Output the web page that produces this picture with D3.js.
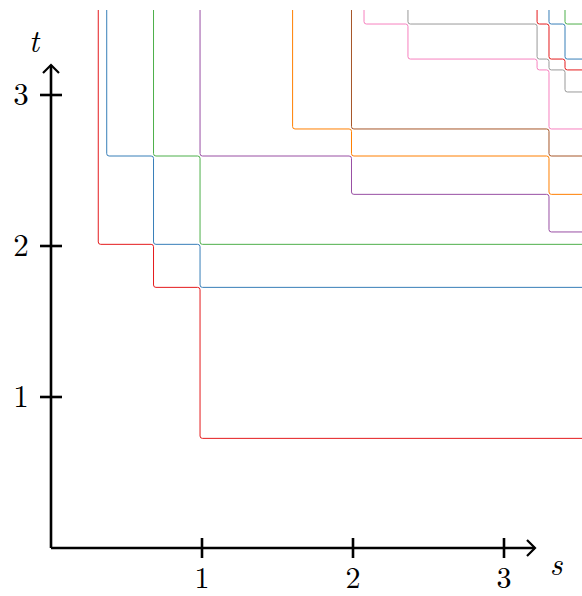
<!DOCTYPE html>
<html>
<head>
<meta charset="utf-8">
<script src="https://cdn.jsdelivr.net/npm/d3@7"></script>
<style>
  html, body { margin: 0; padding: 0; background: #fff; }
  svg { display: block; }
</style>
</head>
<body>
<svg id="chart"></svg>
<script>
// step curves: each one starts at the top at s[0], drops to t[0], goes right to s[1], drops to t[1], ...
// and leaves through the right edge at its last t
const curveS = [
  [0.313, 0.679, 0.987],
  [0.369, 0.679, 0.987],
  [0.679, 0.987],
  [0.987, 1.99, 3.298],
  [1.60, 1.99, 3.298],
  [1.99, 3.298],
  [2.073, 2.364, 3.219, 3.298],
  [2.364, 3.219, 3.298, 3.404],
  [3.219, 3.298, 3.404],
  [3.298, 3.404],
  [3.404]
];
const curveT = [
  [2.011, 1.726, 0.726],
  [2.596, 2.011, 1.726],
  [2.596, 2.011],
  [2.596, 2.342, 2.093],
  [2.775, 2.596, 2.342],
  [2.775, 2.596],
  [3.47, 3.238, 3.166, 2.775],
  [3.47, 3.238, 3.166, 3.02],
  [3.47, 3.238, 3.166],
  [3.47, 3.238],
  [3.47]
];
const colors = ['#e41a1c', '#377eb8', '#4daf4a', '#984ea3', '#ff7f00', '#a65628', '#f781bf', '#999999'];
const ticks = [1, 2, 3];

const width = 582, height = 596;
const svg = d3.select('#chart').attr('width', width).attr('height', height);

const x = d3.scaleLinear().domain([0, 3]).range([51, 504]);
const y = d3.scaleLinear().domain([0, 3]).range([548, 95]);

// visible window of the curves
const sMax = x.invert(width + 2), tMax = y.invert(10);

svg.append('clipPath').attr('id', 'clip')
  .append('rect')
  .attr('x', x(0)).attr('y', y(tMax))
  .attr('width', width - x(0)).attr('height', y(0) - y(tMax));

function stepPath(ss, ts) {
  const pts = [[x(ss[0]), y(tMax + 0.1)]];
  ss.forEach((s, i) => {
    pts.push([x(s), y(ts[i])]);
    pts.push([x(i + 1 < ss.length ? ss[i + 1] : sMax + 0.1), y(ts[i])]);
  });
  const p = d3.path();
  const r = 2.4;
  p.moveTo(pts[0][0], pts[0][1]);
  for (let i = 1; i < pts.length - 1; i++) {
    p.arcTo(pts[i][0], pts[i][1], pts[i + 1][0], pts[i + 1][1], r);
  }
  const last = pts[pts.length - 1];
  p.lineTo(last[0], last[1]);
  return p.toString();
}

svg.append('g').attr('clip-path', 'url(#clip)')
  .selectAll('path')
  .data(curveS.map((s, i) => ({ s, t: curveT[i], i })))
  .join('path')
  .attr('d', d => stepPath(d.s, d.t))
  .attr('fill', 'none')
  .attr('stroke', d => colors[d.i % colors.length])
  .attr('stroke-width', 1);

// axes
const axis = svg.append('g').attr('stroke', '#000').attr('stroke-width', 2.6).attr('fill', 'none');
const xEnd = 535, yEnd = 65;
axis.append('path').attr('d', `M${x(0)},${y(0)}H${xEnd}`);
axis.append('path').attr('d', `M${x(0)},${y(0)}V${yEnd}`);
axis.append('path').attr('d', `M${xEnd - 8},${y(0) - 8}L${xEnd},${y(0)}L${xEnd - 8},${y(0) + 8}`)
  .attr('stroke-linejoin', 'miter').attr('stroke-width', 2.2);
axis.append('path').attr('d', `M${x(0) - 8},${yEnd + 8}L${x(0)},${yEnd}L${x(0) + 8},${yEnd + 8}`)
  .attr('stroke-linejoin', 'miter').attr('stroke-width', 2.2);

axis.selectAll('.xt').data(ticks).join('line').attr('class', 'xt')
  .attr('x1', d => x(d)).attr('x2', d => x(d))
  .attr('y1', y(0) - 10).attr('y2', y(0) + 10);
axis.selectAll('.yt').data(ticks).join('line').attr('class', 'yt')
  .attr('y1', d => y(d)).attr('y2', d => y(d))
  .attr('x1', x(0) - 11).attr('x2', x(0) + 11);

const font = '"Latin Modern Roman", "DejaVu Serif", "Liberation Serif", serif';
const labels = svg.append('g').attr('font-family', font).attr('font-size', 31).attr('fill', '#000');
labels.selectAll('.xl').data(ticks).join('text').attr('class', 'xl')
  .attr('font-size', 30)
  .attr('x', d => x(d)).attr('y', 588).attr('text-anchor', 'middle').text(d => d);
labels.selectAll('.yl').data(ticks).join('text').attr('class', 'yl')
  .attr('x', 21).attr('y', d => y(d) + 10).attr('text-anchor', 'middle').text(d => d);
labels.append('text').attr('x', 34).attr('y', 52).attr('text-anchor', 'middle')
  .attr('font-style', 'italic').text('t');
labels.append('text').attr('x', 556).attr('y', 575).attr('text-anchor', 'middle')
  .attr('font-style', 'italic').text('s');
</script>
</body>
</html>
